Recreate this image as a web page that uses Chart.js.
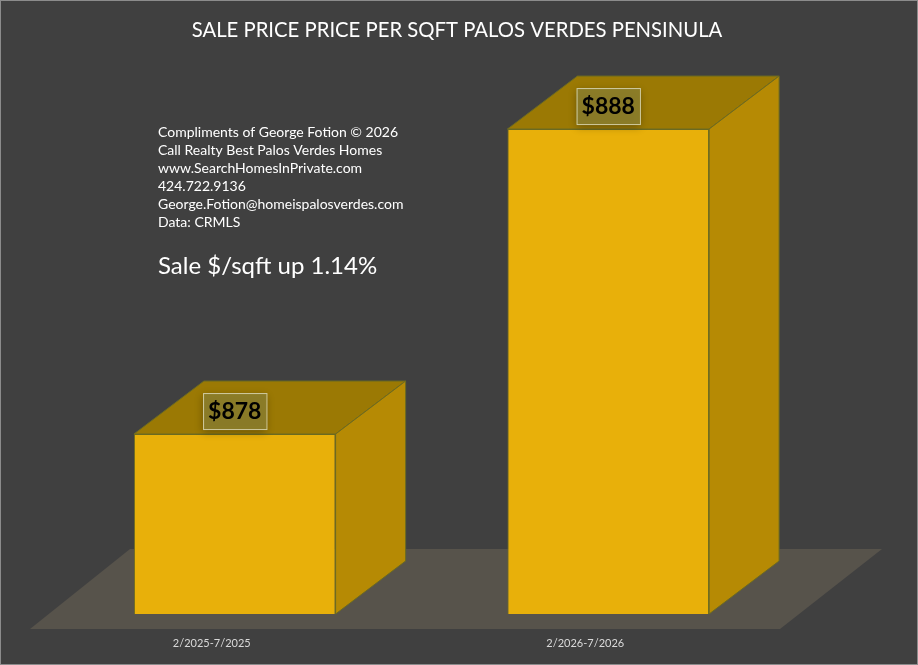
<!DOCTYPE html>
<html>
<head>
<meta charset="utf-8">
<script src="https://cdn.jsdelivr.net/npm/chart.js@4.4.1/dist/chart.umd.min.js"></script>
<style>
  html, body { margin: 0; padding: 0; background: #404040; }
  #wrap { width: 918px; height: 665px; position: relative; }
</style>
</head>
<body>
<div id="wrap"><canvas id="sqftChart"></canvas></div>
<script>
// data
const periods = ['2/2025-7/2025', '2/2026-7/2026'];
const pricePerSqft = [878, 888];
const priceLabels = ['$878', '$888'];
const notes = [
    'Compliments of George Fotion \u00A9 2026',
    'Call Realty Best Palos Verdes Homes',
    'www.SearchHomesInPrivate.com',
    '424.722.9136',
    'George.Fotion@homeispalosverdes.com',
    'Data: CRMLS'
];
const headline = 'Sale $/sqft up 1.14%';
const chartTitle = 'SALE PRICE PRICE PER SQFT PALOS VERDES PENSINULA';

const FONT = 'Lato, "Open Sans", sans-serif';
const DX = 70, DY = -53; // bar depth

// draws the excel style 3d look around the flat bars
const cube3d = {
    id: 'cube3d',
    beforeDraw(chart) {
        const c = chart.ctx;
        c.save();
        c.fillStyle = '#404040';
        c.fillRect(0, 0, chart.width, chart.height);
        c.strokeStyle = '#8c8c8c';
        c.lineWidth = 1;
        c.strokeRect(0.5, 0.5, chart.width - 1, chart.height - 1);
        c.fillStyle = '#ffffff';
        c.font = '20.3px ' + FONT;
        c.textAlign = 'center';
        c.textBaseline = 'middle';
        c.fillText(chartTitle, 457, 30);
        c.restore();
    },
    beforeDatasetsDraw(chart) {
        const c = chart.ctx;
        const a = chart.chartArea;
        const y0 = a.bottom + 15;
        c.save();
        c.fillStyle = '#57534b';
        c.beginPath();
        c.moveTo(a.left - 18, y0);
        c.lineTo(a.right - 15, y0);
        c.lineTo(a.right + 87, y0 - 80);
        c.lineTo(a.left + 82, y0 - 80);
        c.closePath();
        c.fill();
        c.restore();
    },
    afterDatasetsDraw(chart) {
        const c = chart.ctx;
        const a = chart.chartArea;
        const meta = chart.getDatasetMeta(0);
        c.save();
        c.strokeStyle = '#6b6a22';
        c.lineWidth = 1;
        meta.data.forEach((bar, i) => {
            const p = bar.getProps(['x', 'y', 'base', 'width'], true);
            const base = Math.min(p.base, a.bottom);
            const l = p.x - p.width / 2, r = p.x + p.width / 2;
            // top
            c.fillStyle = '#9b7904';
            c.beginPath();
            c.moveTo(l, p.y); c.lineTo(r, p.y);
            c.lineTo(r + DX, p.y + DY); c.lineTo(l + DX, p.y + DY);
            c.closePath(); c.fill(); c.stroke();
            // side
            c.fillStyle = '#b68a04';
            c.beginPath();
            c.moveTo(r, p.y); c.lineTo(r + DX, p.y + DY);
            c.lineTo(r + DX, base + DY); c.lineTo(r, base);
            c.closePath(); c.fill(); c.stroke();

            // value label box
            c.font = 'bold 23px ' + FONT;
            const tw = c.measureText(priceLabels[i]).width;
            const bw = tw + 10, bh = 36;
            const cx = p.x, cy = p.y - 23;
            c.shadowColor = 'rgba(0,0,0,0.35)';
            c.shadowBlur = 8;
            c.shadowOffsetY = 3;
            c.fillStyle = 'rgba(140,126,42,0.92)';
            c.fillRect(cx - bw / 2, cy - bh / 2, bw, bh);
            c.shadowColor = 'transparent';
            c.strokeStyle = '#cfcba0';
            c.strokeRect(cx - bw / 2 + 0.5, cy - bh / 2 + 0.5, bw, bh);
            c.fillStyle = '#000';
            c.textAlign = 'center';
            c.textBaseline = 'middle';
            c.fillText(priceLabels[i], cx, cy + 1);
            c.strokeStyle = '#6b6a22';

            // category label
            c.font = '11px ' + FONT;
            c.fillStyle = '#d9d9d9';
            c.fillText(periods[i], p.x - 23, 643);
        });

        // notes block
        c.textAlign = 'left';
        c.textBaseline = 'middle';
        c.fillStyle = '#ffffff';
        c.font = '14px ' + FONT;
        notes.forEach((t, k) => c.fillText(t, 158, 132 + k * 18));
        c.font = '24px ' + FONT;
        c.fillText(headline, 158, 266);
        c.restore();
    }
};

new Chart(document.getElementById('sqftChart'), {
    type: 'bar',
    data: {
        labels: periods,
        datasets: [{
            data: pricePerSqft,
            backgroundColor: '#e8b00a',
            borderColor: '#6b6a22',
            borderWidth: 1,
            categoryPercentage: 1,
            barPercentage: 0.54
        }]
    },
    options: {
        responsive: true,
        maintainAspectRatio: false,
        animation: false,
        layout: { padding: { left: 48, right: 123, top: 65, bottom: 51 } },
        plugins: {
            legend: { display: false },
            tooltip: { enabled: false },
            title: { display: false }
        },
        scales: {
            x: { display: false },
            y: { display: false, min: 872.1, max: 890.1 }
        }
    },
    plugins: [cube3d]
});
</script>
</body>
</html>
